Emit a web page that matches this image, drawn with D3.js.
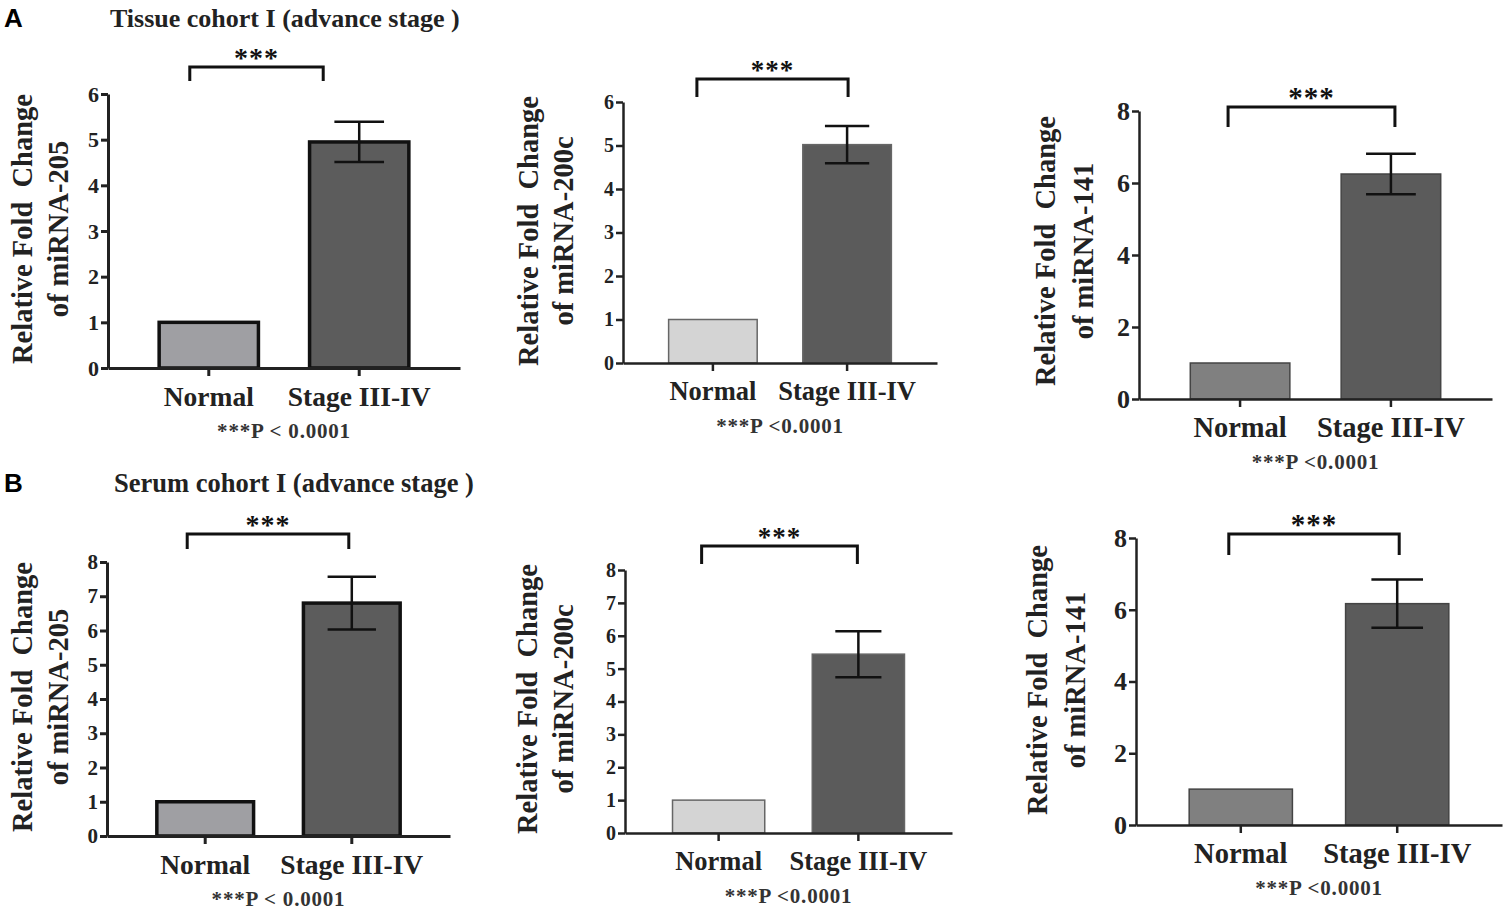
<!DOCTYPE html>
<html>
<head>
<meta charset="utf-8">
<script src="https://cdn.jsdelivr.net/npm/d3@7"></script>
<style>
  body{margin:0;background:#fff}
  text{font-family:"Liberation Serif","Times New Roman",serif;font-weight:bold;fill:#111}
</style>
</head>
<body>
<script>
// data
var groups=["Normal","Stage III-IV"]
var cohortTitles=["Tissue cohort I (advance stage )","Serum cohort I (advance stage )"]
var panelLetters=["A","B"]
var mirnas=["miRNA-205","miRNA-200c","miRNA-141"]
var tissueNormal=[1.0,1.0,1.0]
var tissueStage=[4.95,5.02,6.25]
var tissueSem=[0.44,0.43,0.56]
var serumNormal=[1.0,1.0,1.0]
var serumStage=[6.8,5.44,6.17]
var serumSem=[0.77,0.70,0.67]
var yMaxes=[6,6,8,8,8,8]
var yTicks=[[0,1,2,3,4,5,6],[0,1,2,3,4,5,6],[0,2,4,6,8],[0,1,2,3,4,5,6,7,8],[0,1,2,3,4,5,6,7,8],[0,2,4,6,8]]
var sigLabel="***"
var pLabels=["***P < 0.0001","***P <0.0001","***P <0.0001","***P < 0.0001","***P <0.0001","***P <0.0001"]

// layout of the six panels (pixels)
var layout=[
  {x0:108,x1:460,yZero:368,yTop:94,look:0,tickFont:22,xFont:27.5,labX:22,labGap:36,labY:229,brY:67,brLeg:14,brDx:[-19,-36],starFont:28,axisW:3},
  {x0:623,x1:937,yZero:363,yTop:102,look:1,tickFont:20,xFont:26.5,labX:528,labGap:35,labY:231,brY:79,brLeg:18,brDx:[-16,1],starFont:27,axisW:2.5},
  {x0:1139,x1:1492,yZero:399,yTop:111,look:2,tickFont:26,xFont:28.5,labX:1045,labGap:38,labY:251,brY:107,brLeg:20,brDx:[-12,4],starFont:29,axisW:2.5},
  {x0:107,x1:450,yZero:836,yTop:562,look:0,tickFont:21,xFont:27.5,labX:22,labGap:36,labY:697,brY:534,brLeg:15,brDx:[-18,-3],starFont:28,axisW:3},
  {x0:625,x1:952,yZero:833,yTop:570,look:1,tickFont:20,xFont:26.5,labX:527,labGap:36,labY:699,brY:546,brLeg:18,brDx:[-17,-1],starFont:27,axisW:2.5},
  {x0:1136,x1:1502,yZero:825,yTop:538,look:2,tickFont:26,xFont:28.5,labX:1037,labGap:38,labY:680,brY:534,brLeg:21,brDx:[-12,2],starFont:29,axisW:2.5}
]
var looks=[
  {fill:["#9f9fa3","#5c5c5c"],stroke:"#111",sw:3.5},
  {fill:["#d4d4d4","#5b5b5b"],stroke:"#666",sw:1.5},
  {fill:["#808080","#5b5b5b"],stroke:"#444",sw:1.5}
]
var titlePos=[{x:110,y:27,lx:4,ly:27,size:26},{x:114,y:492,lx:4,ly:492,size:26.5}]

var svg=d3.select("body").append("svg").attr("width",1507).attr("height",916)

cohortTitles.forEach(function(t,i){
  svg.append("text").attr("x",titlePos[i].lx).attr("y",titlePos[i].ly)
     .style("font-family","'Liberation Sans',Arial,sans-serif").style("font-size","26px").style("fill","#000")
     .text(panelLetters[i])
  svg.append("text").attr("x",titlePos[i].x).attr("y",titlePos[i].y)
     .style("font-size",titlePos[i].size+"px").style("fill","#222")
     .text(t)
})

var drawPanel=function(k){
  var L=layout[k]
  var look=looks[L.look]
  var c=k%3
  var means=k<3?[tissueNormal[c],tissueStage[c]]:[serumNormal[c],serumStage[c]]
  var sems=k<3?[0,tissueSem[c]]:[0,serumSem[c]]
  var data=groups.map(function(g,i){return {group:g,mean:means[i],sem:sems[i]}})

  var xScale=d3.scaleBand().domain(groups).range([L.x0,L.x1]).paddingInner(0.34).paddingOuter(0.34)
  var yScale=d3.scaleLinear().domain([0,yMaxes[k]]).range([L.yZero,L.yTop])
  var g=svg.append("g")

  g.selectAll("rect").data(data).enter().append("rect")
   .attr("x",function(d){return xScale(d.group)})
   .attr("y",function(d){return yScale(d.mean)})
   .attr("width",xScale.bandwidth())
   .attr("height",function(d){return yScale(0)-yScale(d.mean)})
   .attr("fill",function(d,i){return look.fill[i]})
   .attr("stroke",look.stroke).attr("stroke-width",look.sw)

  var err=data.filter(function(d){return d.sem>0})
  var cap=xScale.bandwidth()*0.25
  var cx=function(d){return xScale(d.group)+xScale.bandwidth()/2}
  g.selectAll("line.v").data(err).enter().append("line").attr("class","v")
   .attr("x1",cx).attr("x2",cx)
   .attr("y1",function(d){return yScale(d.mean+d.sem)})
   .attr("y2",function(d){return yScale(d.mean-d.sem)})
   .style("stroke","#111").style("stroke-width",2.5)
  ;[1,-1].forEach(function(s){
    g.selectAll(null).data(err).enter().append("line")
     .attr("x1",function(d){return cx(d)-cap}).attr("x2",function(d){return cx(d)+cap})
     .attr("y1",function(d){return yScale(d.mean+s*d.sem)})
     .attr("y2",function(d){return yScale(d.mean+s*d.sem)})
     .style("stroke","#111").style("stroke-width",2.5)
  })

  var yAxis=d3.axisLeft(yScale).tickValues(yTicks[k]).tickSize(7).tickSizeOuter(0).tickPadding(2).tickFormat(d3.format("d"))
  var ya=g.append("g").attr("transform","translate("+L.x0+",0)").call(yAxis)
  ya.selectAll("text").style("font-size",L.tickFont+"px")
  var xAxis=d3.axisBottom(xScale).tickSize(8).tickSizeOuter(0).tickPadding(10)
  var xa=g.append("g").attr("transform","translate(0,"+L.yZero+")").call(xAxis)
  xa.selectAll("text").style("font-size",L.xFont+"px")
  ;[ya,xa].forEach(function(a){
    a.select(".domain").style("stroke","#222").style("stroke-width",L.axisW)
    a.selectAll(".tick line").style("stroke","#222").style("stroke-width",L.axisW)
    a.selectAll("text").style("font-family","'Liberation Serif','Times New Roman',serif").style("fill","#222")
  })

  // significance bracket
  var bx1=xScale(groups[0])+xScale.bandwidth()/2+L.brDx[0]
  var bx2=xScale(groups[1])+xScale.bandwidth()/2+L.brDx[1]
  g.append("path")
   .attr("d","M"+bx1+","+(L.brY+L.brLeg)+"V"+L.brY+"H"+bx2+"V"+(L.brY+L.brLeg))
   .attr("fill","none").attr("stroke","#111").attr("stroke-width",3)
  g.append("text").attr("x",(bx1+bx2)/2).attr("y",L.brY)
   .attr("text-anchor","middle").style("font-size",L.starFont+"px").style("letter-spacing","1px")
   .text(sigLabel)

  // y label
  var yl=g.append("text").attr("transform","translate("+(L.labX+10)+","+L.labY+") rotate(-90)")
   .attr("text-anchor","middle").style("font-size","28.5px").style("white-space","pre").style("fill","#222")
  yl.append("tspan").attr("x",0).attr("dy",0).text("Relative Fold  Change")
  yl.append("tspan").attr("x",0).attr("dy",L.labGap).text("of "+mirnas[c])

  // p value
  g.append("text").attr("x",(L.x0+L.x1)/2).attr("y",L.yZero+70)
   .attr("text-anchor","middle").style("font-size","21px").style("letter-spacing","0.8px").style("fill","#333")
   .text(pLabels[k])
}

for(var k=0;k<6;k++){drawPanel(k)}
</script>
</body>
</html>
